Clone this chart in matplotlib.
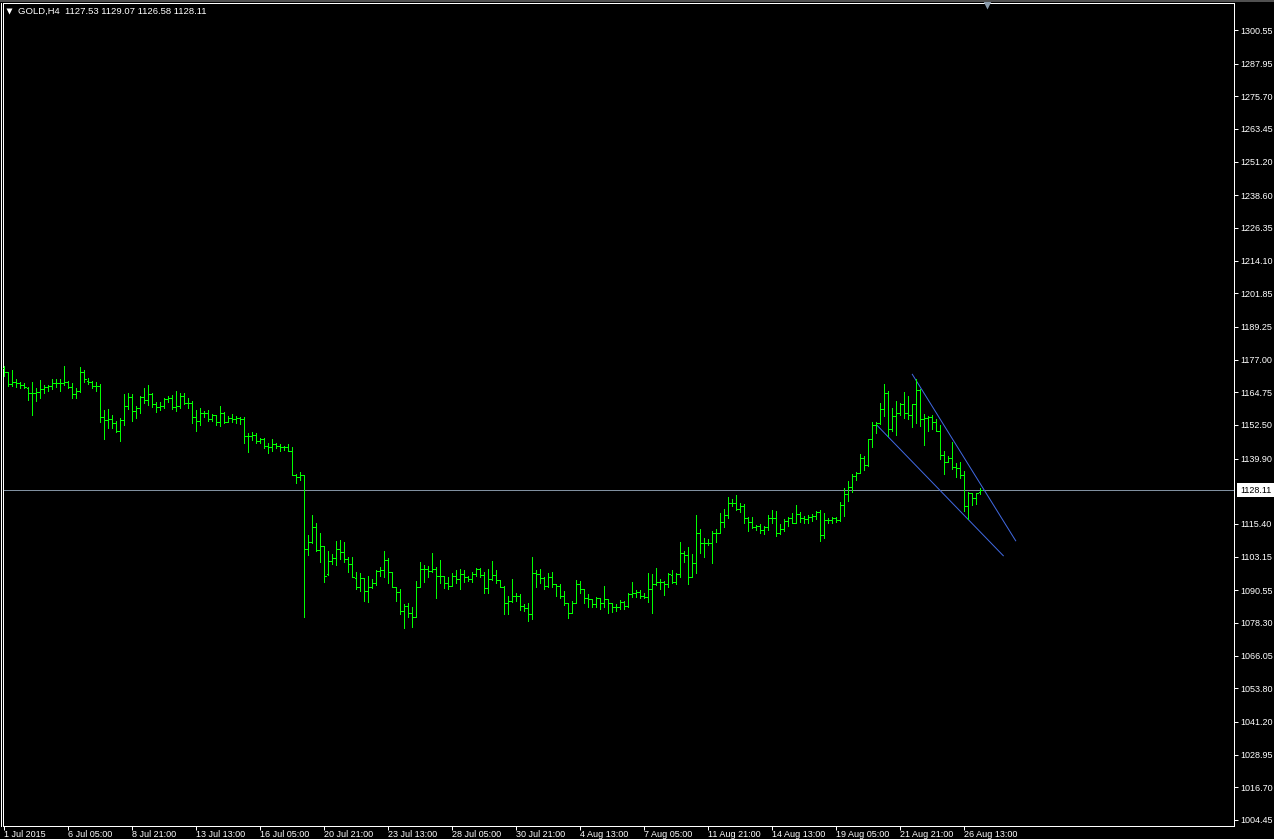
"""GOLD H4 bar chart (1 Jul - 26 Aug 2015) in the MetaTrader look: green OHLC bars on black,
bid line with price box and a falling-wedge pair of trend lines."""
import numpy as np, matplotlib
matplotlib.use("Agg")
import matplotlib.pyplot as plt
from matplotlib.lines import Line2D
from matplotlib.patches import Rectangle
from matplotlib.transforms import blended_transform_factory as blend

symbol = "GOLD,H4"

opens = [
    1173.7, 1172.2, 1167.7, 1168.7, 1168.1, 1167.5, 1166.4, 1164.4, 1164.4, 1165.0,
    1165.9, 1166.6, 1167.2, 1168.1, 1168.1, 1168.1, 1168.5, 1166.9, 1164.1, 1165.4,
    1172.2, 1169.1, 1168.5, 1167.2, 1167.2, 1155.6, 1154.4, 1154.6, 1153.1, 1150.2,
    1154.4, 1159.6, 1163.1, 1157.7, 1158.7, 1163.1, 1161.9, 1164.0, 1160.4, 1159.1,
    1159.6, 1162.1, 1162.5, 1159.1, 1159.5, 1163.4, 1160.6, 1160.6, 1155.4, 1154.0,
    1156.9, 1157.1, 1154.6, 1156.2, 1153.7, 1156.9, 1153.7, 1155.0, 1154.6, 1155.0,
    1154.6, 1148.4, 1148.4, 1148.7, 1146.5, 1147.1, 1144.7, 1144.1, 1145.4, 1144.6,
    1144.1, 1144.1, 1142.9, 1133.7, 1133.1, 1133.7, 1105.9, 1108.5, 1114.1, 1105.6,
    1107.1, 1096.5, 1101.5, 1102.5, 1105.9, 1105.0, 1102.1, 1100.4, 1095.0, 1091.6,
    1095.0, 1090.3, 1091.6, 1093.4, 1097.9, 1098.1, 1101.9, 1097.5, 1091.9, 1090.0,
    1082.9, 1084.6, 1082.1, 1080.6, 1091.6, 1098.5, 1098.4, 1097.9, 1098.6, 1095.9,
    1095.9, 1093.1, 1092.3, 1095.9, 1094.6, 1096.6, 1095.4, 1094.6, 1096.6, 1098.5,
    1096.3, 1091.3, 1094.8, 1096.3, 1094.4, 1091.9, 1085.6, 1086.5, 1088.5, 1088.4,
    1084.6, 1084.0, 1081.6, 1096.9, 1096.6, 1095.0, 1092.3, 1095.4, 1092.9, 1092.1,
    1088.5, 1085.9, 1082.1, 1085.6, 1092.8, 1091.0, 1087.5, 1087.3, 1085.4, 1087.5,
    1085.6, 1087.1, 1085.6, 1084.1, 1084.4, 1086.0, 1084.6, 1089.0, 1089.4, 1090.0,
    1088.4, 1087.9, 1091.0, 1092.9, 1093.8, 1093.8, 1092.8, 1096.3, 1093.8, 1096.7,
    1104.4, 1103.8, 1095.4, 1100.7, 1112.2, 1108.4, 1108.1, 1108.1, 1111.9, 1111.9,
    1116.0, 1118.7, 1123.1, 1123.4, 1120.9, 1122.1, 1117.5, 1116.0, 1114.1, 1114.6,
    1113.1, 1114.1, 1117.5, 1117.5, 1112.2, 1113.4, 1116.5, 1117.7, 1115.6, 1119.1,
    1117.5, 1117.2, 1118.1, 1118.4, 1120.0, 1111.2, 1116.9, 1116.9, 1117.5, 1116.9,
    1122.5, 1126.6, 1129.4, 1133.4, 1134.6, 1140.2, 1137.5, 1147.1, 1152.5, 1153.1,
    1158.4, 1164.4, 1150.9, 1155.9, 1156.9, 1160.2, 1156.9, 1156.2, 1160.2, 1165.6,
    1154.7, 1155.0, 1155.4, 1153.7, 1150.2, 1141.2, 1138.7, 1140.2, 1136.6, 1136.2,
    1133.7, 1122.2, 1126.9, 1125.0, 1127.53]

highs = [
    1174.6, 1172.5, 1173.1, 1169.7, 1168.5, 1168.1, 1166.9, 1168.6, 1166.5, 1169.4,
    1167.5, 1167.5, 1169.7, 1169.7, 1169.7, 1174.6, 1169.1, 1168.1, 1166.2, 1174.4,
    1173.1, 1170.0, 1169.1, 1168.7, 1167.9, 1158.1, 1158.4, 1156.2, 1154.0, 1155.0,
    1164.1, 1164.4, 1164.1, 1159.6, 1163.4, 1166.2, 1167.5, 1164.6, 1161.2, 1161.1,
    1162.7, 1163.5, 1163.7, 1165.2, 1164.4, 1164.4, 1162.7, 1161.5, 1158.1, 1158.7,
    1157.9, 1158.1, 1156.5, 1156.2, 1159.6, 1157.5, 1155.9, 1156.5, 1155.9, 1155.6,
    1155.4, 1149.4, 1150.0, 1149.4, 1147.5, 1147.5, 1145.6, 1147.1, 1145.9, 1145.4,
    1144.6, 1145.4, 1144.1, 1134.1, 1134.9, 1133.7, 1111.3, 1118.8, 1115.6, 1111.9,
    1107.1, 1105.3, 1104.1, 1109.1, 1109.4, 1108.8, 1102.9, 1102.9, 1097.5, 1096.9,
    1095.0, 1095.9, 1094.6, 1098.1, 1099.1, 1105.4, 1102.5, 1097.5, 1091.9, 1090.9,
    1085.3, 1085.6, 1084.4, 1094.0, 1101.3, 1100.0, 1099.6, 1104.4, 1099.1, 1101.9,
    1095.9, 1095.4, 1096.9, 1098.1, 1098.5, 1098.1, 1095.9, 1097.5, 1098.8, 1099.0,
    1097.5, 1098.5, 1101.5, 1098.1, 1094.4, 1092.1, 1088.4, 1094.8, 1089.6, 1089.0,
    1085.3, 1085.6, 1102.9, 1098.1, 1098.5, 1095.6, 1096.9, 1097.3, 1092.9, 1092.9,
    1090.3, 1085.9, 1086.5, 1094.4, 1094.0, 1091.0, 1089.1, 1087.4, 1087.9, 1087.5,
    1092.1, 1087.3, 1085.9, 1085.3, 1086.9, 1086.5, 1089.6, 1093.5, 1090.6, 1090.6,
    1089.6, 1096.9, 1096.6, 1098.8, 1094.6, 1094.0, 1096.9, 1098.2, 1096.9, 1108.5,
    1105.3, 1106.7, 1104.2, 1118.7, 1113.7, 1110.2, 1109.7, 1112.7, 1113.4, 1119.4,
    1121.0, 1125.6, 1124.6, 1126.2, 1123.4, 1122.9, 1118.1, 1118.1, 1115.2, 1115.4,
    1114.6, 1118.7, 1120.6, 1120.2, 1115.4, 1117.1, 1118.1, 1119.4, 1122.5, 1120.0,
    1118.5, 1118.7, 1119.1, 1120.4, 1120.6, 1119.4, 1117.7, 1118.1, 1118.1, 1123.7,
    1129.0, 1131.5, 1134.1, 1134.9, 1141.6, 1140.9, 1147.2, 1153.7, 1153.5, 1160.9,
    1167.7, 1165.2, 1158.7, 1161.6, 1160.6, 1164.7, 1163.5, 1160.2, 1169.7, 1165.9,
    1156.6, 1155.9, 1156.2, 1154.6, 1152.5, 1142.7, 1140.9, 1146.2, 1138.1, 1138.7,
    1135.2, 1127.5, 1127.1, 1127.1, 1129.07]

lows = [
    1171.0, 1167.2, 1167.2, 1166.9, 1166.5, 1166.5, 1161.9, 1156.2, 1161.5, 1162.7,
    1164.4, 1165.2, 1166.0, 1166.9, 1165.2, 1167.5, 1166.2, 1162.5, 1162.7, 1165.0,
    1168.5, 1167.7, 1166.5, 1165.2, 1153.7, 1147.2, 1151.2, 1151.2, 1150.0, 1146.5,
    1152.5, 1158.4, 1154.1, 1155.2, 1156.9, 1160.9, 1160.0, 1159.1, 1157.5, 1158.1,
    1159.0, 1161.0, 1158.4, 1157.7, 1159.0, 1160.2, 1158.7, 1153.4, 1150.4, 1152.5,
    1155.4, 1154.1, 1154.1, 1152.5, 1152.2, 1153.4, 1153.5, 1153.5, 1153.1, 1152.9,
    1145.6, 1142.5, 1146.9, 1145.9, 1145.6, 1143.7, 1141.9, 1142.9, 1144.0, 1142.9,
    1143.1, 1142.7, 1133.7, 1130.6, 1131.9, 1080.6, 1103.8, 1108.1, 1105.4, 1101.3,
    1093.8, 1096.3, 1100.4, 1100.0, 1102.1, 1101.3, 1097.5, 1095.4, 1090.9, 1090.4,
    1086.6, 1086.3, 1091.3, 1092.5, 1096.0, 1095.4, 1093.4, 1091.6, 1086.6, 1081.6,
    1076.6, 1080.6, 1076.9, 1080.4, 1091.6, 1093.8, 1095.6, 1097.3, 1087.8, 1093.4,
    1091.3, 1090.9, 1092.1, 1093.4, 1090.9, 1093.8, 1094.1, 1093.8, 1095.9, 1095.4,
    1089.6, 1089.6, 1094.4, 1093.4, 1091.6, 1081.6, 1081.6, 1086.0, 1086.6, 1083.1,
    1082.9, 1079.1, 1079.6, 1091.9, 1093.4, 1091.0, 1091.6, 1091.9, 1088.4, 1087.5,
    1085.0, 1080.3, 1081.9, 1085.6, 1089.6, 1085.9, 1084.1, 1084.1, 1084.4, 1083.4,
    1084.4, 1082.1, 1082.5, 1082.9, 1083.4, 1083.4, 1084.1, 1087.9, 1087.9, 1087.5,
    1087.5, 1086.3, 1081.9, 1092.5, 1090.9, 1088.8, 1091.9, 1093.2, 1092.9, 1095.7,
    1101.3, 1092.9, 1095.4, 1097.2, 1104.6, 1103.1, 1107.5, 1100.9, 1108.7, 1111.9,
    1114.4, 1117.5, 1122.2, 1120.6, 1120.0, 1115.9, 1112.9, 1114.0, 1113.1, 1112.1,
    1111.6, 1113.1, 1115.9, 1111.0, 1111.6, 1112.9, 1114.7, 1115.6, 1115.6, 1116.2,
    1115.9, 1115.9, 1116.6, 1117.1, 1109.1, 1110.2, 1115.6, 1115.6, 1116.2, 1116.6,
    1118.5, 1124.1, 1127.2, 1131.9, 1134.6, 1135.6, 1137.1, 1144.4, 1149.4, 1152.7,
    1155.9, 1148.5, 1150.2, 1148.7, 1156.2, 1155.0, 1154.6, 1151.9, 1153.1, 1152.2,
    1145.0, 1150.4, 1150.9, 1150.2, 1139.6, 1134.0, 1138.5, 1135.9, 1132.9, 1132.5,
    1120.4, 1117.2, 1122.5, 1122.9, 1126.58]

closes = [
    1172.2, 1167.7, 1168.7, 1168.1, 1167.5, 1166.9, 1164.4, 1164.4, 1165.0, 1165.9,
    1166.6, 1167.2, 1168.1, 1168.1, 1168.4, 1168.5, 1166.9, 1164.1, 1165.4, 1172.2,
    1169.7, 1168.5, 1167.2, 1167.2, 1155.6, 1154.4, 1154.6, 1153.1, 1150.2, 1154.4,
    1159.6, 1163.1, 1157.7, 1158.7, 1163.1, 1161.9, 1164.0, 1160.4, 1159.1, 1159.6,
    1162.1, 1162.5, 1159.1, 1159.5, 1163.4, 1160.6, 1160.6, 1155.4, 1154.0, 1156.9,
    1157.1, 1154.6, 1156.2, 1153.7, 1156.9, 1153.7, 1155.0, 1154.6, 1155.0, 1154.6,
    1148.4, 1148.4, 1148.7, 1146.5, 1147.1, 1144.7, 1144.1, 1145.4, 1144.6, 1144.1,
    1144.1, 1142.9, 1133.7, 1133.1, 1133.7, 1105.9, 1108.5, 1114.1, 1105.6, 1107.1,
    1095.9, 1101.5, 1102.5, 1105.9, 1105.0, 1102.1, 1100.4, 1095.4, 1091.6, 1095.0,
    1090.3, 1091.6, 1093.4, 1097.9, 1098.1, 1101.9, 1097.5, 1091.9, 1090.0, 1082.9,
    1084.6, 1082.1, 1080.6, 1091.6, 1098.5, 1098.4, 1097.9, 1098.6, 1095.9, 1095.9,
    1093.1, 1092.3, 1095.9, 1094.6, 1096.6, 1095.4, 1094.6, 1096.6, 1098.5, 1096.3,
    1091.3, 1094.8, 1096.3, 1094.4, 1091.9, 1085.6, 1086.5, 1088.5, 1088.4, 1084.6,
    1084.0, 1081.6, 1096.9, 1096.6, 1095.0, 1092.3, 1095.4, 1092.9, 1092.1, 1088.5,
    1085.9, 1082.1, 1085.6, 1092.8, 1091.0, 1087.5, 1087.3, 1085.4, 1087.5, 1085.6,
    1087.1, 1085.6, 1084.1, 1084.4, 1086.0, 1084.6, 1089.0, 1089.4, 1090.0, 1088.4,
    1087.9, 1091.0, 1092.9, 1093.8, 1093.8, 1092.8, 1096.6, 1093.8, 1096.7, 1104.4,
    1103.8, 1095.4, 1100.7, 1112.2, 1108.4, 1108.1, 1108.1, 1111.9, 1111.9, 1116.0,
    1118.7, 1123.1, 1123.4, 1120.9, 1122.1, 1117.5, 1116.0, 1114.1, 1114.6, 1113.1,
    1114.1, 1117.5, 1117.5, 1112.2, 1113.4, 1116.5, 1117.7, 1115.6, 1119.1, 1117.5,
    1117.2, 1118.1, 1118.4, 1120.0, 1111.2, 1116.9, 1116.9, 1117.5, 1116.9, 1122.5,
    1126.6, 1129.4, 1133.4, 1134.4, 1140.2, 1137.5, 1147.1, 1152.5, 1153.1, 1158.4,
    1164.4, 1150.9, 1155.9, 1156.9, 1160.2, 1156.9, 1156.2, 1160.2, 1165.6, 1154.7,
    1155.0, 1155.4, 1153.7, 1150.2, 1141.2, 1138.7, 1140.2, 1136.6, 1136.2, 1133.7,
    1122.2, 1126.9, 1125.0, 1126.9, 1128.11]

time_labels = ["1 Jul 2015", "6 Jul 05:00", "8 Jul 21:00", "13 Jul 13:00", "16 Jul 05:00",
               "20 Jul 21:00", "23 Jul 13:00", "28 Jul 05:00", "30 Jul 21:00", "4 Aug 13:00",
               "7 Aug 05:00", "11 Aug 21:00", "14 Aug 13:00", "19 Aug 05:00", "21 Aug 21:00",
               "26 Aug 13:00"]
bars_per_label = 16

# 1127.65 sits under the bid box in the reference, so it is not listed
price_ticks = [1300.55, 1287.95, 1275.70, 1263.45, 1251.20, 1238.60, 1226.35, 1214.10,
               1201.85, 1189.25, 1177.00, 1164.75, 1152.50, 1139.90, 1115.40,
               1103.15, 1090.55, 1078.30, 1066.05, 1053.80, 1041.20, 1028.95, 1016.70, 1004.45]

# trend lines as (bar index, price) end points
upper_line = [(227.0, 1171.5), (252.85, 1109.1)]
lower_line = [(218.1, 1152.5), (249.75, 1103.5)]

BAR = "#00ff00"
PX = 0.72  # one pixel in points at dpi 100
FS = 6.5


def main(out="out.png"):
    plt.rcParams["font.family"] = ["Liberation Sans", "DejaVu Sans"]
    W, H = 1274, 839
    fig = plt.figure(figsize=(W / 100, H / 100), dpi=100, facecolor="black")
    ax = fig.add_axes([3 / W, 13 / H, 1231 / W, 823 / H], facecolor="black")

    o, h, l, c = map(np.asarray, (opens, highs, lows, closes))
    hi, lo = np.maximum.reduce([h, o, c]), np.minimum.reduce([l, o, c])
    x = np.arange(len(o))
    ax.vlines(x, lo, hi, colors=BAR, lw=PX, antialiased=False, zorder=3)
    ax.hlines(o, x - 0.4, x, colors=BAR, lw=PX, antialiased=False, zorder=3)
    ax.hlines(c, x, x + 0.4, colors=BAR, lw=PX, antialiased=False, zorder=3)

    for line in (upper_line, lower_line):
        ax.plot([p[0] for p in line], [p[1] for p in line], color="#4169e1", lw=PX, zorder=2)

    bid = closes[-1]
    ax.axhline(bid, color="#8090a0", lw=PX, zorder=1)

    ax.set_xlim(-0.325, 307.425)
    ax.set_ylim(1002.20, 1310.67)

    # price scale on the right
    ax.yaxis.tick_right()
    ax.set_yticks(price_ticks)
    ax.set_yticklabels([f"{v:.2f}" for v in price_ticks])
    ax.tick_params(axis="y", colors="white", length=3, width=PX, labelsize=FS, pad=1.5)
    tr = blend(ax.transAxes, ax.transData)
    ax.text(1.0049, bid, f"{bid:.2f}", transform=tr, ha="left", va="center", fontsize=FS,
            color="black", zorder=6, clip_on=False,
            bbox=dict(boxstyle="square,pad=0.3", fc="white", ec="none"))

    # time scale
    ticks = np.arange(len(time_labels)) * bars_per_label
    ax.set_xticks(ticks)
    ax.set_xticklabels(time_labels)
    for t in ax.get_xticklabels():
        t.set_ha("left")
    ax.tick_params(axis="x", colors="white", length=3, width=PX, labelsize=FS, pad=0)

    for s in ax.spines.values():
        s.set_color("white"); s.set_linewidth(PX)

    # chart shift marker at the top
    ax.plot([245.7], [0.997], marker="v", ms=6, color="#8a9aaa", mec="none",
            transform=blend(ax.transData, ax.transAxes), clip_on=False, zorder=7)

    # window chrome and header
    fig.add_artist(Rectangle((0, 1 - 2 / H), 1, 2 / H, transform=fig.transFigure,
                             color="#505050", lw=0))
    fig.add_artist(Line2D([0.5 / W, 0.5 / W], [13 / H, 1 - 3 / H], color="white", lw=PX,
                          transform=fig.transFigure))
    fig.add_artist(Line2D([9 / W], [1 - 11 / H], marker="v", ms=4.5, color="white",
                          mec="none", transform=fig.transFigure))
    head = f"{symbol}  {opens[-1]:.2f} {highs[-1]:.2f} {lows[-1]:.2f} {closes[-1]:.2f}"
    fig.text(18 / W, 1 - 11 / H, head, color="white", fontsize=6.8, ha="left", va="center")

    fig.savefig(out, dpi=100, facecolor="black")
    print("wrote", out)


if __name__ == "__main__":
    main()
